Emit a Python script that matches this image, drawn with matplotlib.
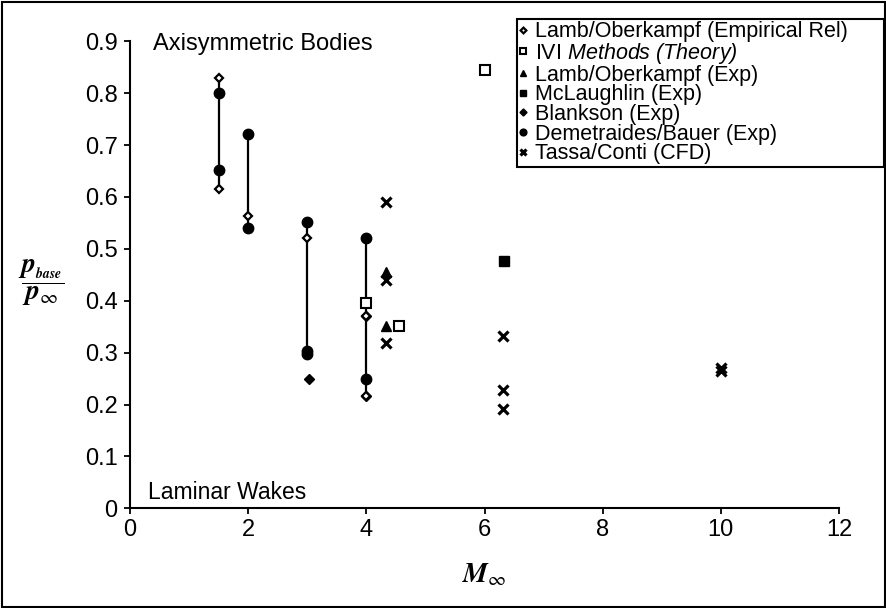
import matplotlib.pyplot as plt
from matplotlib.patches import Rectangle
from matplotlib.font_manager import FontProperties

plt.rcParams['font.family'] = 'Liberation Sans'
plt.rcParams['mathtext.fontset'] = 'custom'
plt.rcParams['mathtext.rm'] = 'Liberation Sans:italic'
plt.rcParams['mathtext.it'] = 'Liberation Sans:italic'

# base pressure ratio data, grouped by source
lamb_emp_mach = [1.5, 1.5, 2, 3, 4, 4]
lamb_emp_p = [0.83, 0.615, 0.563, 0.52, 0.37, 0.217]

ivi_mach = [4, 4.55, 6.0]
ivi_p = [0.395, 0.352, 0.845]

lamb_exp_mach = [4.33, 4.33]
lamb_exp_p = [0.455, 0.351]

mclaughlin_mach = [6.33]
mclaughlin_p = [0.476]

blankson_mach = [3.03, 4, 4]
blankson_p = [0.249, 0.37, 0.217]

demetriades_mach = [1.5, 1.5, 2, 2, 3, 3, 3, 4, 4]
demetriades_p = [0.80, 0.652, 0.722, 0.541, 0.551, 0.304, 0.298, 0.52, 0.249]

tassa_mach = [4.34, 4.34, 4.34, 6.32, 6.32, 6.32, 10, 10]
tassa_p = [0.59, 0.44, 0.319, 0.333, 0.228, 0.191, 0.27, 0.265]

# spread bars at each test Mach number
range_mach = [1.5, 2, 3, 4]
range_lo = [0.615, 0.541, 0.298, 0.217]
range_hi = [0.83, 0.722, 0.551, 0.52]

fig = plt.figure(figsize=(8.87, 6.08), dpi=100)
ax = fig.add_axes([0.1466, 0.164, 0.7993, 0.768])

ax.vlines(range_mach, range_lo, range_hi, color='black', lw=1.6, zorder=2)

ax.plot(blankson_mach, blankson_p, 'D', color='black', ms=5.5, zorder=3,
        label='Blankson (Exp)')
ax.plot(lamb_emp_mach, lamb_emp_p, 'D', mfc='white', mec='black', mew=1.6, ms=4.5,
        zorder=4, label='Lamb/Oberkampf (Empirical Rel)')
ax.plot(ivi_mach, ivi_p, 's', mfc='white', mec='black', mew=1.5, ms=7, zorder=4,
        label=r'IVI $Methods\ (Theory)$')
ax.plot(lamb_exp_mach, lamb_exp_p, '^', color='black', ms=7, zorder=4,
        label='Lamb/Oberkampf (Exp)')
ax.plot(mclaughlin_mach, mclaughlin_p, 's', color='black', ms=7, zorder=4,
        label='McLaughlin (Exp)')
ax.plot(demetriades_mach, demetriades_p, 'o', color='black', ms=7.5, zorder=4,
        label='Demetraides/Bauer (Exp)')
ax.plot(tassa_mach, tassa_p, 'x', color='black', ms=6.5, mew=2.3, zorder=4,
        label='Tassa/Conti (CFD)')

ax.set_xlim(0, 12)
ax.set_ylim(0, 0.9)
ax.set_xticks(range(0, 13, 2))
ax.set_yticks([i / 10 for i in range(10)])
ax.set_yticklabels(['0'] + ['%.1f' % (i / 10) for i in range(1, 10)])
ax.tick_params(direction='out', length=4, width=1.3, labelsize=17, color='black')
ax.tick_params(axis='y', pad=5)
ax.tick_params(axis='x', pad=4)
for side in ['top', 'right']:
    ax.spines[side].set_visible(False)
for side in ['left', 'bottom']:
    ax.spines[side].set_linewidth(1.5)

ax.set_xlabel(r'$\mathbfit{M}_{\infty}$', fontsize=20, math_fontfamily='stix',
              labelpad=15)
ax.set_ylabel(r'$\dfrac{\mathbfit{p}_{{}_{\mathbfit{base}}}}{\mathbfit{p}_{\infty}}$',
              fontsize=20, math_fontfamily='stix', rotation=0, va='center',
              ha='center')
ax.yaxis.set_label_coords(-0.125, 0.484)

ax.text(0.032, 0.995, 'Axisymmetric Bodies', transform=ax.transAxes, fontsize=17,
        ha='left', va='center')
ax.text(0.025, 0.034, 'Laminar Wakes', transform=ax.transAxes, fontsize=16.5,
        ha='left', va='center')

# legend order follows the source list; box stretched to a fixed width
handles, labels = ax.get_legend_handles_labels()
order = [1, 2, 3, 4, 0, 5, 6]
leg_x0, leg_x1, leg_top = 517 / 887, 884 / 887, 1 - 19 / 608
leg = ax.legend([handles[i] for i in order], [labels[i] for i in order],
                loc='upper left', mode='expand',
                bbox_to_anchor=(leg_x0, leg_top - 0.3, leg_x1 - leg_x0, 0.3),
                bbox_transform=fig.transFigure, borderaxespad=0,
                prop=FontProperties(family='Liberation Sans', size=15.5,
                                    math_fontfamily='custom'),
                markerscale=0.65, handlelength=0.4, handletextpad=0.35,
                labelspacing=-0.06, borderpad=0.1, fancybox=False,
                framealpha=1, edgecolor='black')
leg.get_frame().set_linewidth(1.5)

# border around the whole figure
fig.patches.append(Rectangle((0.002, 0.002), 0.996, 0.995, transform=fig.transFigure,
                             fill=False, edgecolor='black', lw=1.5))

fig.savefig('out.png', dpi=100)
